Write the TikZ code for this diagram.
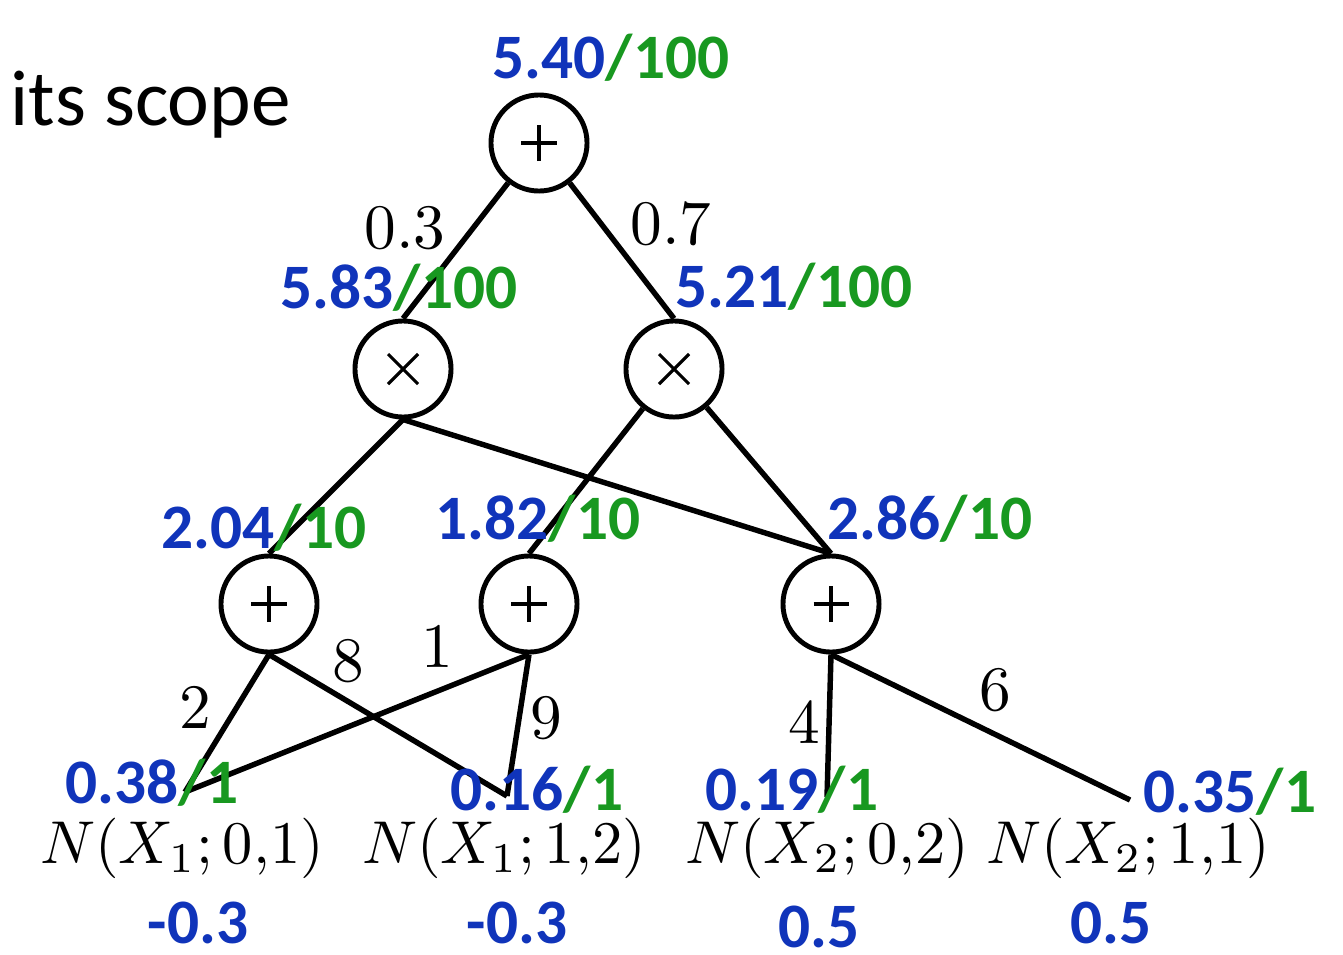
\documentclass[tikz,border=0pt]{standalone}
\usepackage{fontspec}
\newfontfamily\carl{Carlito}
\definecolor{vblue}{RGB}{16,52,186}
\definecolor{vgreen}{RGB}{24,152,32}
\newcommand\vpair[2]{\textcolor{vblue}{#1}\textcolor{vgreen}{/#2}}
\newcommand\leafmath[1]{\scalebox{1.72}{$#1$}}
\newcommand\wt[1]{\scalebox{1.8}{#1}}
\newcommand\plusmark[1]{%
  \draw[sym] ([xshift=-0.175cm]#1.center) -- ([xshift=0.175cm]#1.center);
  \draw[sym] ([yshift=-0.18cm]#1.center) -- ([yshift=0.18cm]#1.center);}
\newcommand\timesmark[1]{%
  \draw[sym] ([xshift=-0.15cm,yshift=-0.15cm]#1.center) -- ([xshift=0.15cm,yshift=0.15cm]#1.center);
  \draw[sym] ([xshift=-0.15cm,yshift=0.15cm]#1.center) -- ([xshift=0.15cm,yshift=-0.15cm]#1.center);}
\tikzset{
 opnode/.style={circle,draw=black,line width=1.4pt,minimum size=0.96cm,inner sep=0pt,fill=white},
 sym/.style={line width=0.9pt},
 edge/.style={line width=1.55pt},
 val/.style={font=\carl\bfseries\fontsize{18}{20}\selectfont,inner sep=0pt,anchor=base west},
 bval/.style={val,text=vblue},
 wlab/.style={inner sep=0pt},
 leaf/.style={inner sep=0pt,anchor=base},
}
\begin{document}
\begin{tikzpicture}[x=0.01cm,y=-0.01cm]
\useasboundingbox (0,0) rectangle (1343,954);
% operation nodes
\node[opnode] (top) at (539,143) {};
\node[opnode] (lx) at (403,369) {};
\node[opnode] (rx) at (674,369) {};
\node[opnode] (s1) at (269,604) {};
\node[opnode] (s2) at (529,604) {};
\node[opnode] (s3) at (831,604) {};
\plusmark{top}
\timesmark{lx}
\timesmark{rx}
\plusmark{s1}
\plusmark{s2}
\plusmark{s3}
% leaf end points
\coordinate (l1) at (185,792);
\coordinate (l2) at (507,796);
\coordinate (l3) at (827,797);
\coordinate (l4) at (1130,800);
% edges
\draw[edge] (top) -- (lx.north);
\draw[edge] (top) -- (rx.north);
\draw[edge] (lx.south) -- (s1.north);
\draw[edge] (lx.south) -- (s3.north);
\draw[edge] (rx) -- (s2.north);
\draw[edge] (rx) -- (s3.north);
\draw[edge] (s1.south) -- (l1);
\draw[edge] (s1.south) -- (l2);
\draw[edge] (s2.south) -- (l1);
\draw[edge] (s2.south) -- (l2);
\draw[edge] (s3.south) -- (l3);
\draw[edge] (s3.south) -- (l4);
% edge weights
\node[wlab] (w03) at (405,228) {\wt{0.3}};
\node[wlab] (w07) at (671,224) {\wt{0.7}};
\node[wlab] (w2) at (195,707) {\wt{2}};
\node[wlab] (w8) at (348,661) {\wt{8}};
\node[wlab] (w1) at (437,646) {\wt{1}};
\node[wlab] (w9) at (546,718) {\wt{9}};
\node[wlab] (w4) at (804,722) {\wt{4}};
\node[wlab] (w6) at (995,690) {\wt{6}};
% leaf distributions
\node[leaf] (n1) at (182,863) {\leafmath{N(X_1;0{,}1)}};
\node[leaf] (n2) at (504,863) {\leafmath{N(X_1;1{,}2)}};
\node[leaf] (n3) at (827,863) {\leafmath{N(X_2;0{,}2)}};
\node[leaf] (n4) at (1128,863) {\leafmath{N(X_2;1{,}1)}};
% values
\node[val] (v0) at (492,78) {\vpair{5.40}{100}};
\node[val] (v1) at (280,308) {\vpair{5.83}{100}};
\node[val] (v2) at (675,307) {\vpair{5.21}{100}};
\node[val] (v3) at (161,548) {\vpair{2.04}{10}};
\node[val] (v4) at (435,539) {\vpair{1.82}{10}};
\node[val] (v5) at (827,539) {\vpair{2.86}{10}};
\node[val] (v6) at (65,803) {\vpair{0.38}{1}};
\node[val] (v7) at (450,810) {\vpair{0.16}{1}};
\node[val] (v8) at (705,810) {\vpair{0.19}{1}};
\node[val] (v9) at (1143,812) {\vpair{0.35}{1}};
% bottom values
\node[bval] (b1) at (147,943) {-0.3};
\node[bval] (b2) at (466,943) {-0.3};
\node[bval] (b3) at (778,947) {0.5};
\node[bval] (b4) at (1070,943) {0.5};
% title
\node[font=\carl\fontsize{22.5}{26}\selectfont,anchor=base west,inner sep=0pt] (scope) at (10,125) {its scope};
\end{tikzpicture}
\end{document}
